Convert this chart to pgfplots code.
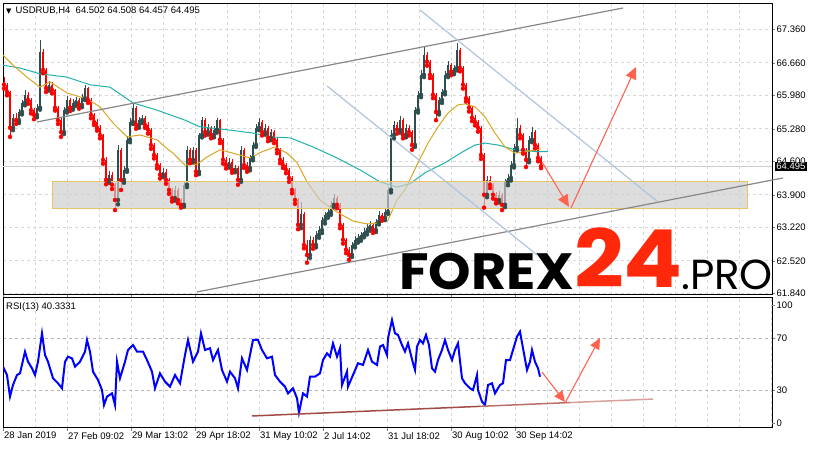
\documentclass[border=0pt]{standalone}
\usepackage{pgfplots}
\pgfplotsset{compat=1.18}
\usepackage{pgfplotstable}
\usepackage{fontspec}
\setmainfont{Liberation Sans}
\newfontfamily\dejavu{DejaVu Sans}
\newfontfamily\popfont{Poppins}
\usetikzlibrary{arrows.meta}

\definecolor{bull}{RGB}{47,79,79}
\definecolor{bear}{RGB}{255,0,0}
\definecolor{maslow}{RGB}{32,178,170}
\definecolor{mafast}{RGB}{218,165,32}
\definecolor{chan}{RGB}{135,135,135}
\definecolor{lblue}{RGB}{176,196,222}
\definecolor{arrowc}{RGB}{255,99,80}
\definecolor{gridc}{RGB}{215,215,215}
\definecolor{rsiblue}{RGB}{0,0,255}
\definecolor{forexred}{RGB}{255,40,10}
\definecolor{zonefill}{RGB}{205,205,205}
\definecolor{zoneedge}{RGB}{232,196,100}

% H4 candles: i o h l c  (x position = 4+3i)
\pgfplotstableread{
i o h l c
0 66.26 66.36 66.12 66.20
1 66.20 66.24 65.98 66.05
2 66.05 66.08 65.11 65.30
3 65.30 65.58 65.25 65.51
4 65.51 65.60 65.38 65.46
5 65.46 65.70 65.40 65.63
6 65.63 65.88 65.58 65.82
7 65.82 66.09 65.77 65.99
8 65.99 66.04 65.80 65.88
9 65.88 65.92 65.60 65.67
10 65.67 65.72 65.48 65.57
11 65.57 65.80 65.52 65.72
12 65.72 67.14 65.68 66.89
13 66.89 66.95 66.44 66.51
14 66.51 66.55 66.05 66.13
15 66.13 66.27 66.08 66.20
16 66.20 66.26 66.02 66.09
17 66.09 66.12 65.66 65.72
18 65.72 65.76 65.38 65.46
19 65.46 65.50 65.11 65.21
20 65.21 65.74 65.17 65.67
21 65.67 65.97 65.62 65.88
22 65.88 65.93 65.65 65.72
23 65.72 65.90 65.68 65.82
24 65.82 65.95 65.76 65.88
25 65.88 65.92 65.70 65.78
26 65.78 66.00 65.73 65.92
27 65.92 66.20 65.88 66.13
28 66.13 66.16 65.82 65.88
29 65.88 65.92 65.50 65.57
30 65.57 65.62 65.36 65.42
31 65.42 65.48 65.24 65.30
32 65.30 65.35 65.08 65.15
33 65.15 65.18 64.55 64.63
34 64.63 64.68 64.12 64.21
35 64.21 64.40 64.15 64.32
36 64.32 64.38 64.02 64.11
37 64.11 64.15 63.58 63.79
38 63.79 64.94 63.70 64.84
39 64.84 64.88 64.00 64.21
40 64.21 64.50 64.15 64.42
41 64.42 65.12 64.38 65.05
42 65.05 65.50 65.00 65.42
43 65.42 65.82 65.38 65.72
44 65.72 65.76 65.28 65.36
45 65.36 65.53 65.30 65.46
46 65.46 65.57 65.40 65.51
47 65.51 65.55 65.30 65.36
48 65.36 65.42 65.18 65.26
49 65.26 65.30 64.86 64.94
50 64.94 64.98 64.66 64.73
51 64.73 64.78 64.45 64.52
52 64.52 64.56 64.24 64.32
53 64.32 64.46 64.27 64.38
54 64.38 64.43 64.13 64.21
55 64.21 64.26 63.92 64.00
56 64.00 64.05 63.76 63.83
57 63.83 64.08 63.78 64.00
58 64.00 64.04 63.72 63.79
59 63.79 63.84 63.63 63.69
60 63.69 64.17 63.65 64.11
61 64.11 64.92 64.06 64.84
62 64.84 64.88 64.56 64.63
63 64.63 64.90 64.58 64.84
64 64.84 64.87 64.31 64.38
65 64.38 65.20 64.33 65.15
66 65.15 65.53 65.10 65.46
67 65.46 65.50 65.14 65.21
68 65.21 65.38 65.16 65.30
69 65.30 65.34 65.08 65.15
70 65.15 65.34 65.10 65.26
71 65.26 65.51 65.20 65.46
72 65.46 65.49 64.98 65.05
73 65.05 65.08 64.55 64.63
74 64.63 64.68 64.45 64.52
75 64.52 64.66 64.47 64.59
76 64.59 64.64 64.36 64.42
77 64.42 64.53 64.37 64.46
78 64.46 64.50 64.11 64.21
79 64.21 64.92 64.17 64.84
80 64.84 64.88 64.46 64.52
81 64.52 64.58 64.38 64.46
82 64.46 64.74 64.41 64.67
83 64.67 65.00 64.62 64.94
84 64.94 65.37 64.90 65.30
85 65.30 65.51 65.25 65.42
86 65.42 65.46 65.14 65.21
87 65.21 65.38 65.16 65.30
88 65.30 65.34 65.02 65.09
89 65.09 65.28 65.04 65.21
90 65.21 65.25 64.98 65.05
91 65.05 65.09 64.77 64.84
92 64.84 64.88 64.56 64.63
93 64.63 64.68 64.46 64.52
94 64.52 64.57 64.35 64.42
95 64.42 64.46 64.17 64.25
96 64.25 64.29 63.93 64.00
97 64.00 64.04 63.71 63.79
98 63.79 63.83 63.18 63.27
99 63.27 63.75 63.20 63.50
100 63.50 63.54 62.78 62.85
101 62.85 62.96 62.48 62.64
102 62.64 63.04 62.58 62.96
103 62.96 63.02 62.77 62.85
104 62.85 63.14 62.80 63.06
105 63.06 63.24 63.00 63.16
106 63.16 63.44 63.10 63.37
107 63.37 63.55 63.30 63.48
108 63.48 63.62 63.42 63.54
109 63.54 63.76 63.48 63.69
110 63.69 63.92 63.64 63.83
111 63.83 63.88 63.62 63.69
112 63.69 63.73 63.20 63.27
113 63.27 63.31 62.88 62.96
114 62.96 63.00 62.68 62.75
115 62.75 62.80 62.54 62.64
116 62.64 62.92 62.60 62.85
117 62.85 63.03 62.80 62.96
118 62.96 63.08 62.90 63.00
119 63.00 63.13 62.94 63.06
120 63.06 63.20 63.01 63.12
121 63.12 63.28 63.07 63.21
122 63.21 63.35 63.15 63.27
123 63.27 63.31 63.10 63.16
124 63.16 63.40 63.12 63.33
125 63.33 63.56 63.28 63.48
126 63.48 63.52 63.36 63.42
127 63.42 63.63 63.37 63.54
128 63.54 64.06 63.50 64.00
129 64.00 65.26 63.95 65.15
130 65.15 65.44 65.08 65.36
131 65.36 65.42 65.18 65.26
132 65.26 65.55 65.20 65.46
133 65.46 65.50 65.08 65.15
134 65.15 65.37 65.10 65.30
135 65.30 65.36 65.14 65.21
136 65.21 65.25 64.84 64.94
137 64.94 65.74 64.90 65.67
138 65.67 66.06 65.62 65.99
139 65.99 66.50 65.94 66.41
140 66.41 66.99 66.36 66.82
141 66.82 66.88 66.60 66.68
142 66.68 66.72 66.34 66.41
143 66.41 66.45 65.92 65.99
144 65.99 66.03 65.46 65.63
145 65.63 65.95 65.58 65.88
146 65.88 66.12 65.82 66.05
147 66.05 66.48 66.00 66.41
148 66.41 66.70 66.36 66.61
149 66.61 66.66 66.40 66.47
150 66.47 66.62 66.42 66.55
151 66.55 67.07 66.50 66.93
152 66.93 66.97 66.48 66.55
153 66.55 66.59 66.12 66.20
154 66.20 66.24 65.85 65.92
155 65.92 65.97 65.64 65.72
156 65.72 65.76 65.44 65.51
157 65.51 65.57 65.35 65.42
158 65.42 65.46 65.22 65.30
159 65.30 65.34 64.65 64.73
160 64.73 64.77 63.63 63.90
161 63.90 64.29 63.85 64.21
162 64.21 64.30 64.04 64.11
163 64.11 64.15 63.82 63.90
164 63.90 63.95 63.72 63.79
165 63.79 63.98 63.74 63.90
166 63.90 63.94 63.58 63.69
167 63.69 64.24 63.64 64.17
168 64.17 64.33 64.10 64.25
169 64.25 64.60 64.20 64.52
170 64.52 64.96 64.47 64.88
171 64.88 65.51 64.83 65.30
172 65.30 65.36 65.08 65.15
173 65.15 65.19 64.76 64.84
174 64.84 64.88 64.48 64.63
175 64.63 65.12 64.58 65.05
176 65.05 65.32 65.00 65.21
177 65.21 65.25 64.87 64.94
178 64.94 64.98 64.60 64.67
179 64.67 64.72 64.457 64.495
}\candles

\pgfplotsset{
  mt4/.style={
    scale only axis, width=769pt, enlargelimits=false,
    xmin=3, xmax=772,
    axis line style={line width=1pt, black},
    tick align=outside, major tick length=3pt,
    ytick pos=right, yticklabel pos=right,
    tick label style={font=\fontsize{9.5}{11}\selectfont, black},
    yticklabel style={inner sep=1.5pt},
    grid style={gridc, dash pattern=on 3pt off 3pt, line width=0.8pt},
  }
}

\begin{document}
\begin{tikzpicture}

% ---------------- price window ----------------
\begin{axis}[mt4, name=price, at={(3pt,155pt)}, anchor=south west, height=292pt,
  ymin=61.804, ymax=67.910, clip=false,
  ytick={61.84,62.52,63.22,63.90,64.60,65.28,65.98,66.66,67.36},
  yticklabels={61.840,62.520,63.220,63.900,64.600,65.280,65.980,66.660,67.360},
  xtick={35,67,...,739}, xticklabels={}, xtick style={draw=none},
  grid=major]

% bid line
\addplot[color={rgb,255:red,205;green,205;blue,205}, line width=0.8pt] coordinates {(3,64.495) (772,64.495)};

% candles: wicks and bodies
\addplot[bull, only marks, mark=none, error bars/.cd, y dir=plus, y explicit, error mark=none,
  error bar style={line width=0.8pt}]
  table[x expr=4+3*\thisrow{i}, y expr={\thisrow{c}<\thisrow{o} ? nan : \thisrow{l}},
        y error plus expr=\thisrow{h}-\thisrow{l}] {\candles};
\addplot[bear, only marks, mark=none, error bars/.cd, y dir=plus, y explicit, error mark=none,
  error bar style={line width=0.8pt}]
  table[x expr=4+3*\thisrow{i}, y expr={\thisrow{c}<\thisrow{o} ? \thisrow{l} : nan},
        y error plus expr=\thisrow{h}-\thisrow{l}] {\candles};
\addplot[bull, only marks, mark=none, error bars/.cd, y dir=plus, y explicit, error mark=none,
  error bar style={line width=2pt}]
  table[x expr=4+3*\thisrow{i}, y expr={\thisrow{c}<\thisrow{o} ? nan : \thisrow{o}},
        y error plus expr=\thisrow{c}-\thisrow{o}] {\candles};
\addplot[bear, only marks, mark=none, error bars/.cd, y dir=plus, y explicit, error mark=none,
  error bar style={line width=2pt}]
  table[x expr=4+3*\thisrow{i}, y expr={\thisrow{c}<\thisrow{o} ? \thisrow{c} : nan},
        y error plus expr=\thisrow{o}-\thisrow{c}] {\candles};

% moving averages
\addplot[maslow, line width=1pt] coordinates {
 (3,66.61) (20,66.55) (40,66.43) (67,66.36) (90,66.20) (110,66.15) (133,65.82)
 (157,65.67) (185,65.46) (200,65.32) (227,65.26) (253,65.19) (270,65.11) (290,65.09)
 (313,64.90) (337,64.67) (360,64.42) (380,64.17) (397,64.06) (410,64.13) (425,64.36)
 (445,64.57) (462,64.79) (475,64.94) (485,64.98) (498,64.94) (515,64.84) (538,64.80) (548,64.80)};
\addplot[mafast, line width=1pt] coordinates {
 (3,66.82) (13,66.61) (27,66.36) (40,66.15) (50,66.26) (67,66.03) (87,65.90)
 (100,65.74) (113,65.40) (127,65.11) (140,65.15) (157,65.05) (165,64.90) (173,64.77)
 (185,64.52) (197,64.54) (207,64.69) (220,64.84) (233,64.77) (250,64.67) (262,64.80)
 (275,64.90) (287,64.77) (297,64.57) (307,64.17) (320,63.79) (337,63.54) (353,63.35)
 (367,63.29) (380,63.31) (388,63.37) (397,63.79) (405,64.00) (418,64.57) (428,64.98)
 (438,65.32) (448,65.61) (458,65.78) (465,65.80) (475,65.74) (485,65.53) (495,65.19)
 (505,64.90) (515,64.77) (525,64.80) (541,64.86)};

% support zone
\addplot[fill=zonefill, fill opacity=0.68, draw=zoneedge, line width=1pt]
  coordinates {(52,63.604) (747,63.604) (747,64.168) (52,64.168) (52,63.604)};

% channels
\addplot[chan, line width=1.2pt] coordinates {(37,65.422) (623,67.806)};
\addplot[chan, line width=1.2pt] coordinates {(197,61.868) (783,64.252)};
\addplot[lblue, line width=1.2pt] coordinates {(420,67.764) (658,63.750)};
\addplot[lblue, line width=1.2pt] coordinates {(327,66.175) (537,62.642)};

% forecast arrows
\addplot[arrowc, line width=1.1pt, -{Triangle[length=12pt,width=11pt]}]
  coordinates {(542,64.586) (569,63.646)};
\addplot[arrowc, line width=1.1pt, -{Triangle[length=12pt,width=11pt]}]
  coordinates {(571,63.625) (636,66.572)};

\coordinate (bid) at (axis cs:772,64.495);
\end{axis}

% ---------------- RSI window ----------------
\begin{axis}[mt4, name=rsi, at={(3pt,22pt)}, anchor=south west, height=130pt,
  ymin=0.6, ymax=101.2,
  ytick={30,70}, yticklabels={30,70},
  extra y ticks={4.5,95.8}, extra y tick labels={0,100},
  extra y tick style={grid=none},
  xtick={3,67,131,195,259,323,387,451,515},
  xticklabels={28 Jan 2019,27 Feb 09:02,29 Mar 13:02,29 Apr 18:02,31 May 10:02,2 Jul 14:02,31 Jul 18:02,30 Aug 10:02,30 Sep 14:02},
  xticklabel style={anchor=north west, inner sep=1pt},
  minor xtick={35,99,163,227,291,355,419,483,547,579,611,643,675,707,739,771},
  minor tick length=0pt,
  grid=both,
  major y grid style={color={rgb,255:red,180;green,180;blue,180}, dash pattern=on 3pt off 3pt, line width=0.8pt},
  major x grid style={gridc, dash pattern=on 3pt off 3pt, line width=0.8pt},
  minor x grid style={gridc, dash pattern=on 3pt off 3pt, line width=0.8pt}]

\addplot[rsiblue, line width=2pt, line join=miter] coordinates {
 (3,48.1) (7,41.6) (10,24.9) (13,33.9) (17,41.6) (20,42.9) (25,59.7) (28,51.9)
 (32,46.8) (35,41.6) (38,51.9) (42,73.9) (45,57.1) (48,51.9) (53,39.1) (58,35.2)
 (62,31.3) (65,51.9) (68,55.8) (72,54.5) (75,48.1) (80,51.9) (85,59.7) (87,68.7)
 (90,59.7) (93,44.2) (98,37.8) (102,30) (104,18.4) (107,24.9) (112,27.4) (115,18.4)
 (117,51.9) (120,39.1) (125,51.9) (128,61) (133,64.8) (137,59.7) (143,59.7) (147,53.2)
 (152,44.2) (155,31.3) (160,42.9) (165,36.5) (170,32.6) (175,41.6) (180,35.2) (185,57.1)
 (188,68.7) (193,51.9) (198,59.7) (201,73.9) (205,61) (210,62.3) (213,53.2) (218,61)
 (222,45.5) (227,36.5) (230,44.2) (235,39.1) (238,31.3) (242,54.5) (247,45.5) (253,68.7)
 (258,68.7) (262,61) (267,54.5) (272,55.8) (275,41.6) (280,36.5) (285,32.6) (288,27.4)
 (293,31.3) (297,23.6) (299,12.5) (303,27.4) (307,24.9) (310,40.3) (315,40.3) (320,42.9)
 (323,53.2) (327,58.4) (330,55.8) (333,66.1) (337,55.8) (340,62.3) (342,33.9) (347,44.2)
 (348,32.6) (353,41.6) (358,50.7) (363,49.4) (368,61) (372,51.9) (377,49.4) (380,63.6)
 (383,64.8) (387,57.1) (388,70) (392,84.2) (395,73.9) (398,72.6) (402,64.8) (405,59.7)
 (408,66.1) (413,50.7) (415,45.5) (417,63.6) (420,68.7) (423,66.1) (426,72.6) (429,64.8)
 (432,46.8) (435,44.2) (438,53.2) (442,61) (445,68.7) (448,61) (452,53.2) (455,61)
 (458,66.1) (462,39.1) (465,35.2) (470,31.3) (473,30) (477,41.6) (478,30) (482,21)
 (485,18.4) (488,33.9) (492,35.2) (495,27.4) (500,33.9) (503,35.2) (506,53.2) (510,53.2)
 (513,61) (517,71.3) (520,75.2) (523,62.3) (527,45.5) (530,51.9) (532,61) (535,51.9)
 (538,46.8) (540,40.3)};

% RSI support line, fading to the right
\addplot[color={rgb,255:red,160;green,75;blue,70}, line width=1.5pt] coordinates {(252,9.9) (480,17.35)};
\addplot[color={rgb,255:red,185;green,110;blue,105}, line width=1.5pt] coordinates {(480,17.35) (570,20.3)};
\addplot[color={rgb,255:red,215;green,160;blue,155}, line width=1.5pt] coordinates {(570,20.3) (653,23.0)};

\addplot[arrowc, line width=1.1pt, -{Triangle[length=11pt,width=10pt]}]
  coordinates {(542,43.9) (565,20.7)};
\addplot[arrowc, line width=1.1pt, -{Triangle[length=11pt,width=10pt]}]
  coordinates {(565,20.0) (600,70.2)};
\end{axis}

% header texts
\node[anchor=west, inner sep=0pt] at (6pt,439pt) {{\dejavu\fontsize{7}{8}\selectfont ▼}\hspace{4pt}{\fontsize{9.5}{11}\selectfont USDRUB,H4\ \ 64.502 64.508 64.457 64.495}};
\node[anchor=west, inner sep=0pt, font=\fontsize{9.5}{11}\selectfont] at (6pt,143pt) {RSI(13) 40.3331};

% current price tag
\node[anchor=west, fill=black, text=white, inner sep=1.2pt, font=\fontsize{9.5}{10}\selectfont] at ([xshift=3pt]bid) {64.495};

% watermark
\node[anchor=base west, inner sep=0pt, font=\popfont\bfseries\fontsize{51}{51}\selectfont] at (399pt,160pt) {\scalebox{1.06}[1]{FOREX}};
\node[anchor=base west, inner sep=0pt, text=forexred, font=\popfont\bfseries\fontsize{80}{80}\selectfont] at (574pt,162pt) {\scalebox{1.09}[1]{24}};
\node[anchor=base west, inner sep=0pt, font=\popfont\fontsize{42}{42}\selectfont] at (681pt,160pt) {.PRO};

\pgfresetboundingbox
\path[use as bounding box] (0pt,0pt) rectangle (815pt,450pt);
\end{tikzpicture}
\end{document}
